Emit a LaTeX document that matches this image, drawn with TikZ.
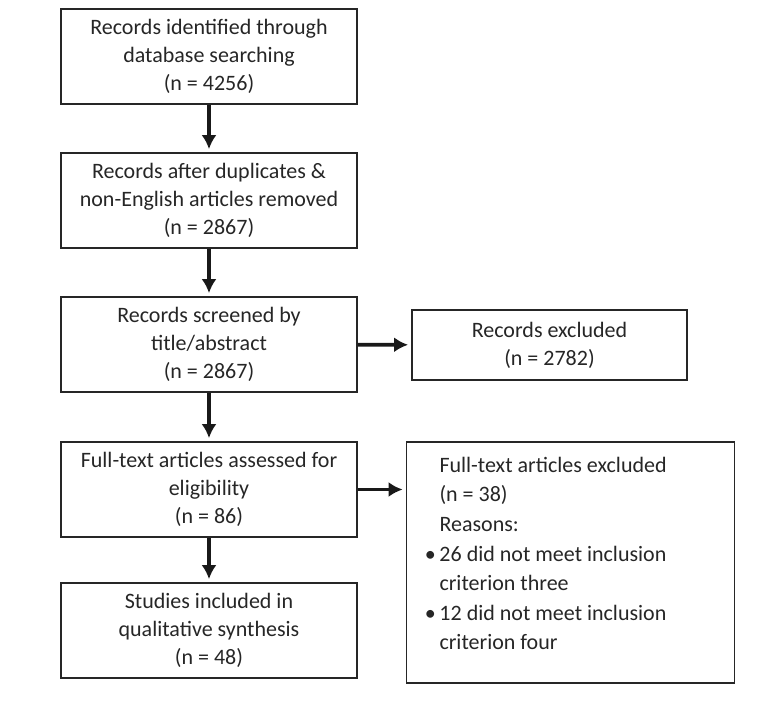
\documentclass[tikz,border=0pt]{standalone}
\usepackage{fontspec}
\setmainfont{Carlito}
\usetikzlibrary{arrows.meta,positioning}
\tikzset{
  stage/.style={draw=black!85, line width=0.9pt, minimum width=148pt, minimum height=47.5pt,
    align=center, inner sep=2pt, font=\fontsize{11}{14}\selectfont, text=black!85},
  flow/.style={line width=1.8pt, black!90, -{Latex[length=7pt,width=7.5pt]}, shorten >=1.5pt},
}
\begin{document}
\begin{tikzpicture}[x=0.5pt,y=-0.5pt]
\useasboundingbox (0,0) rectangle (770,713);
% main column
\node[stage] (ident) at (209,56.5) {Records identified through\\database searching\\(n = 4256)};
\node[stage] (dedup) at (209,200.5) {Records after duplicates \&\\non-English articles removed\\(n = 2867)};
\node[stage] (screen) at (209,344.5) {Records screened by\\title/abstract\\(n = 2867)};
\node[stage] (elig) at (209,489.5) {Full-text articles assessed for\\eligibility\\(n = 86)};
\node[stage] (incl) at (209,630.5) {Studies included in\\qualitative synthesis\\(n = 48)};
% exclusions
\node[stage, minimum width=137.5pt, minimum height=35pt] (recex) at (549.5,345) {Records excluded\\(n = 2782)};
\node[stage, minimum width=156.5pt, minimum height=120.5pt, text width=131pt, align=flush left,
  inner xsep=16.5pt, font=\fontsize{11}{14.8}\selectfont] (fullex) at (570.5,562.5)
  {Full-text articles excluded\\(n = 38)\\Reasons:\\
   \leavevmode\llap{\textbullet\,}26 did not meet inclusion\\criterion three\\
   \leavevmode\llap{\textbullet\,}12 did not meet inclusion\\criterion four\par\vspace{9pt}};
\draw[flow] (ident) -- (dedup);
\draw[flow] (dedup) -- (screen);
\draw[flow] (screen) -- (elig);
\draw[flow] (elig) -- (incl);
\draw[flow] (screen) -- (recex);
\draw[flow] (elig.east) -- (elig.east -| fullex.west);
\end{tikzpicture}
\end{document}
